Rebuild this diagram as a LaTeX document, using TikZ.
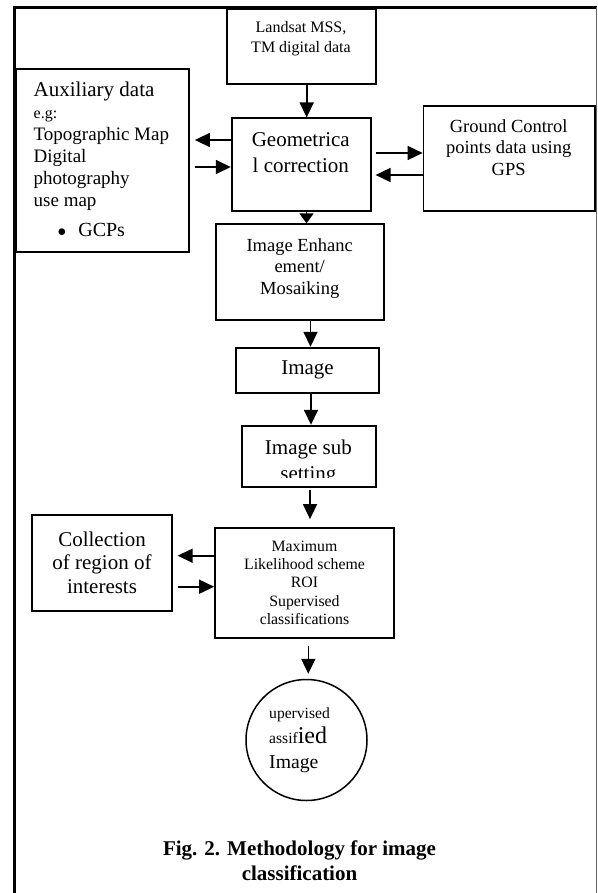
\documentclass[tikz,border=0pt]{standalone}
\usepackage{fontspec}
\setmainfont{Liberation Serif}
\usetikzlibrary{arrows.meta}

\newcommand{\fsz}[2]{\fontsize{#1}{#2}\selectfont}

\begin{document}
\begin{tikzpicture}[x=1pt, y=-1pt,
  box/.style={draw, line width=1.8pt, inner sep=0pt},
  txt/.style={align=center, inner sep=0pt},
  arr/.style={-{Triangle[width=14pt,length=15pt]}, line width=1.6pt}]

  \useasboundingbox (0,0) rectangle (597,893);

  % Frame
  \draw[line width=3pt] (14,893) -- (14,7.3) -- (597,7.3);
  \draw[line width=1pt, black!60] (596,7.3) -- (596,893);

  % Define boxes
  \node[box, minimum width=149.3pt, minimum height=75pt]  (landsat) at (301.3,46.5) {};
  \node[box, minimum width=139pt, minimum height=92.7pt]  (geo)     at (301.2,164.7) {};
  \node[box, minimum width=173.6pt, minimum height=183pt] (aux)     at (102.5,160.8) {};
  \node[box, minimum width=171.5pt, minimum height=105pt] (gcp)     at (509.3,158.5) {};
  \node[box, minimum width=168.3pt, minimum height=96pt]  (enh)     at (299.8,272.3) {};
  \node[box, minimum width=143pt, minimum height=45pt, font=\fsz{21}{24}] (img) at (307.5,370.2) {Image};
  \node[box, minimum width=134pt, minimum height=61.6pt]  (sub)     at (309,456.5) {};
  \node[box, minimum width=179pt, minimum height=110pt, align=center, font=\fsz{15.8}{18.3}] (max) at (304.5,582.7)
    {Maximum\\Likelihood scheme\\ROI\\Supervised\\classifications};
  \node[box, minimum width=139.4pt, minimum height=95.7pt, align=center, font=\fsz{21}{23.8}] (coll) at (102,562.8)
    {Collection\\of region of\\interests};
  \node[draw, circle, line width=1.5pt, minimum size=121pt, inner sep=0pt] (out) at (306.5,740) {};

  % Box texts
  \node[txt, font=\fsz{16}{20}]     (landsatTxt) at (301,38.5)    {Landsat MSS,\\TM digital data};
  \node[txt, font=\fsz{21}{25.7}]   (geoTxt)     at (300.8,153)   {Geometrica\\l correction};
  \node[txt, font=\fsz{18.5}{21.2}] (gcpTxt)     at (508.7,147.5) {Ground Control\\points data using\\GPS};
  \node[txt, font=\fsz{18.5}{21.7}] (enhTxt)     at (299.7,268.3) {Image Enhanc\\ement/\\Mosaiking};
  \node[align=left, anchor=north west, inner sep=0pt, font=\fsz{19}{22}] (auxTxt) at (33.5,82.2)
    {{\fsz{21}{22}Auxiliary data}\\{\fsz{16}{22}e.g:}\\Topographic Map\\Digital\\photography\\use map\\[8pt]%
     \hspace*{24pt}$\bullet$\hspace{12pt}{\fsz{20}{22}GCPs}};
  \begin{scope}
    \clip (sub.north west) rectangle (sub.east |- 0,477.5);
    \node[txt, font=\fsz{21}{26}] (subTxt) at (308.4,462) {Image sub\\setting};
  \end{scope}
  \node[align=left, anchor=west, inner sep=0pt, font=\fsz{15.6}{25}] (outTxt) at (269,740)
    {upervised\\assif{\fsz{24}{25}ied}\\{\fsz{19.7}{25}Image}};

  % Connect the boxes
  \draw[arr] (landsat.south -| 306.7,0) -- (geo.north -| 306.7,0);
  \draw[arr, shorten >=4.7pt] (geo.west |- 0,140) -- (aux.east |- 0,140);
  \draw[arr, shorten <=4.7pt] (aux.east |- 0,167) -- (geo.west |- 0,167);
  \draw[arr, shorten <=4pt] (geo.east |- 0,153) -- (gcp.west |- 0,153);
  \draw[arr, shorten >=4pt] (gcp.west |- 0,175) -- (geo.east |- 0,175);
  \draw[-{Triangle[width=14pt,length=10pt]}, line width=1.6pt] (geo.south -| 306.5,0) -- (enh.north -| 306.5,0);
  \draw[arr] (enh.south -| 310.5,0) -- (img.north -| 310.5,0);
  \draw[arr] (img.south -| 311,0) -- (sub.north -| 311,0);
  \draw[arr, shorten <=1.7pt, shorten >=7.7pt] (sub.south -| 310,0) -- (max.north -| 310,0);
  \draw[arr, shorten >=5pt] (max.west |- 0,555.7) -- (coll.east |- 0,555.7);
  \draw[arr, shorten <=5pt] (coll.east |- 0,586.7) -- (max.west |- 0,586.7);
  \draw[arr, shorten <=7.3pt, shorten >=5pt] (max.south -| 308.3,0) -- (out.north -| 308.3,0);

  % Caption
  \node[txt, font=\bfseries\fsz{21}{25}] (caption) at (299.5,861) {Fig. 2. Methodology for image\\classification};

\end{tikzpicture}
\end{document}
